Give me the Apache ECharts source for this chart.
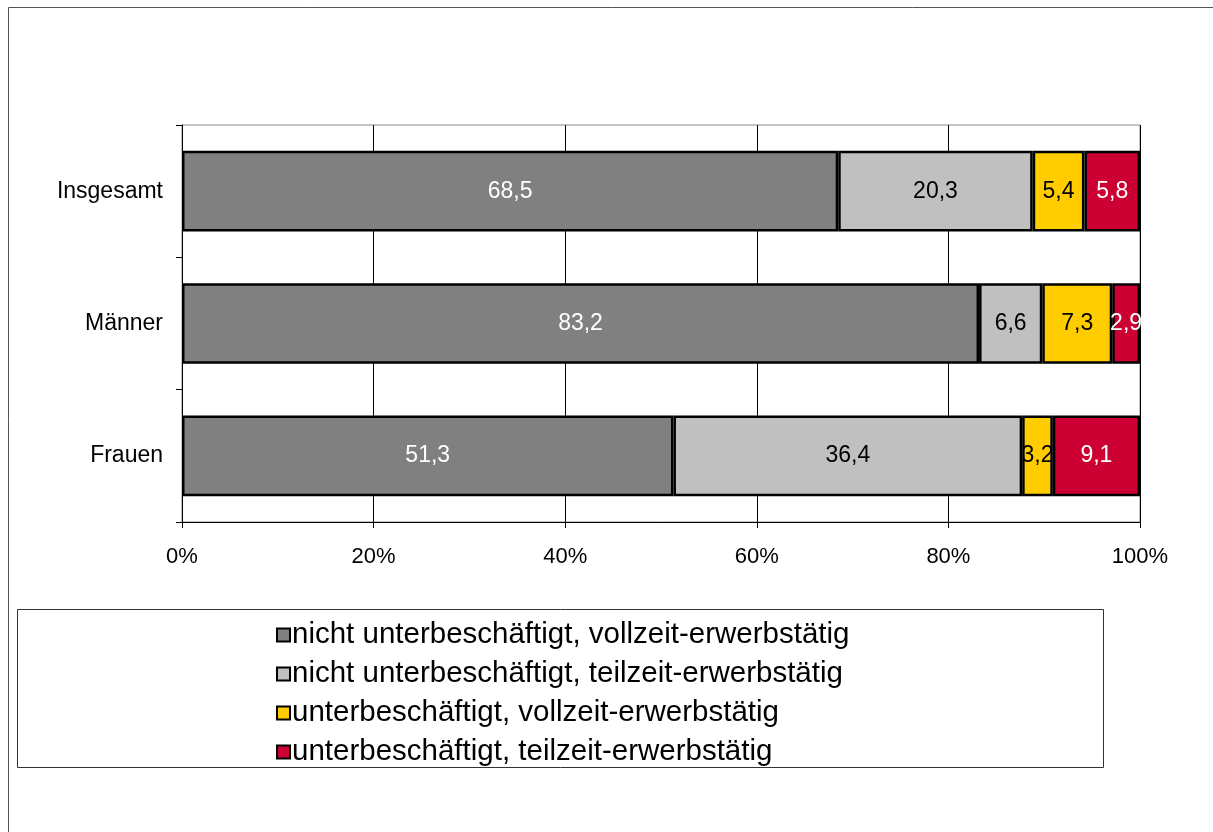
<!DOCTYPE html>
<html>
<head>
<meta charset="utf-8">
<script src="https://cdn.jsdelivr.net/npm/echarts@6/dist/echarts.min.js"></script>
<style>
html,body{margin:0;padding:0;background:#fff;}
#c{width:1213px;height:832px;}
</style>
</head>
<body>
<div id="c"></div>
<script>
const categories = ['Insgesamt', 'Männer', 'Frauen'];
const seriesNames = [
  'nicht unterbeschäftigt, vollzeit-erwerbstätig',
  'nicht unterbeschäftigt, teilzeit-erwerbstätig',
  'unterbeschäftigt, vollzeit-erwerbstätig',
  'unterbeschäftigt, teilzeit-erwerbstätig'
];
const vollNicht = [68.5, 83.2, 51.3];
const teilNicht = [20.3, 6.6, 36.4];
const vollUnter = [5.4, 7.3, 3.2];
const teilUnter = [5.8, 2.9, 9.1];
const xTicks = [0, 20, 40, 60, 80, 100];

const colors = ['#808080', '#C0C0C0', '#FFCC00', '#CC0033'];
const labelColors = ['#ffffff', '#000000', '#000000', '#ffffff'];
const values = [vollNicht, teilNicht, vollUnter, teilUnter];
const FONT = '"Liberation Sans", Arial, sans-serif';

const chart = echarts.init(document.getElementById('c'), null, {renderer: 'canvas'});
chart.setOption({
  animation: false,
  backgroundColor: '#ffffff',
  textStyle: {fontFamily: FONT},
  graphic: [
    {type: 'rect', shape: {x: 8.5, y: 7.5, width: 1220, height: 840}, style: {fill: 'none', stroke: '#555', lineWidth: 1}, silent: true},
    {type: 'rect', shape: {x: 17.5, y: 609.5, width: 1086, height: 158}, style: {fill: 'none', stroke: '#333', lineWidth: 1}, silent: true}
  ],
  grid: {left: 182, right: 73, top: 125, bottom: 310, show: true, borderColor: '#888', borderWidth: 1},
  legend: {
    orient: 'vertical',
    left: 271,
    top: 615,
    itemWidth: 13,
    itemHeight: 13,
    itemGap: 9,
    icon: 'rect',
    textStyle: {fontSize: 29.5, lineHeight: 30, color: '#000', fontFamily: FONT, padding: [0, 0, 0, -3]},
    data: seriesNames
  },
  xAxis: {
    type: 'value',
    min: 0, max: 100, interval: 20,
    axisLine: {show: true, lineStyle: {color: '#000', width: 1}},
    axisTick: {show: true, length: 6, lineStyle: {color: '#000'}},
    axisLabel: {formatter: '{value}%', fontSize: 22, color: '#000', margin: 24, fontFamily: FONT},
    splitLine: {show: true, lineStyle: {color: '#000', width: 1}}
  },
  yAxis: {
    type: 'category',
    data: categories,
    inverse: true,
    axisLine: {show: true, lineStyle: {color: '#000', width: 1}},
    axisTick: {show: true, length: 6, lineStyle: {color: '#000'}},
    axisLabel: {fontSize: 23, color: '#000', margin: 19, fontFamily: FONT}
  },
  series: seriesNames.map((name, i) => ({
    name: name,
    type: 'bar',
    stack: 'total',
    barWidth: '61%',
    data: values[i],
    itemStyle: {color: colors[i], borderColor: '#000', borderWidth: 2.5},
    label: {
      show: true,
      position: 'inside',
      color: labelColors[i],
      fontSize: 23,
      fontFamily: FONT,
      formatter: p => String(p.value).replace('.', ',')
    }
  }))
});
</script>
</body>
</html>
